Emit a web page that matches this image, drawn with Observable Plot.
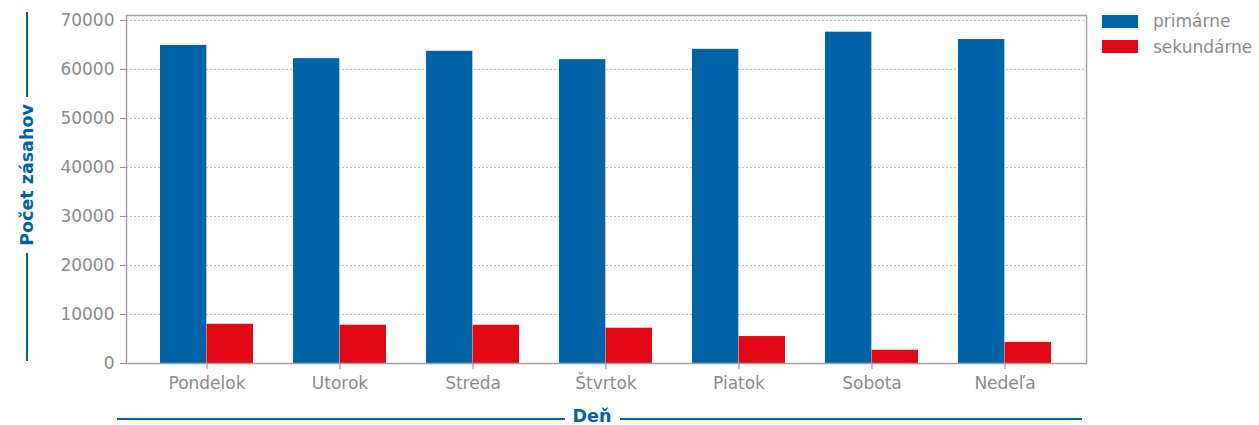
<!DOCTYPE html>
<html><head><meta charset="utf-8">
<script src="https://cdn.jsdelivr.net/npm/d3@7"></script>
<script src="https://cdn.jsdelivr.net/npm/@observablehq/plot@0.6"></script>
<style>
body{margin:0;background:#fff;font-family:"DejaVu Sans",sans-serif;}
#wrap{position:relative;width:1259px;height:425px;overflow:hidden;}
#wrap svg{position:absolute;left:0;top:0;}
.leg{position:absolute;left:1102px;display:flex;align-items:center;font-size:17px;color:#8a8a8a;}
.sw{width:36px;height:13px;margin-right:15px;}
.ttl{position:absolute;color:#0063a6;font-weight:bold;font-size:17.5px;line-height:18px;}
.hl{position:absolute;height:2px;background:#0063a6;}
.vl{position:absolute;width:2px;background:#0063a6;}
</style></head><body><div id="wrap"></div>
<script>
const days = ["Pondelok","Utorok","Streda","Štvrtok","Piatok","Sobota","Nedeľa"];
const primarne = [64900,62200,63700,62000,64100,67600,66100];
const sekundarne = [8000,7800,7800,7200,5500,2700,4300];
const seriesNames = ["primárne","sekundárne"];
const seriesColors = ["#0063a6","#e30613"];
const yTicks = [0,10000,20000,30000,40000,50000,60000,70000];
const yTitle = "Počet zásahov";
const xTitle = "Deň";

const W = 1259, H = 425;
const mL = 126, mR = 173, mT = 15, mB = 62;
const pIn = 0.3, pOut = 0.25;
const step = (W - mL - mR) / (days.length - pIn + 2 * pOut);
const half = step * (1 - pIn) / 2;

const dataP = days.map((d, i) => ({day: d, v: primarne[i]}));
const dataS = days.map((d, i) => ({day: d, v: sekundarne[i]}));

const chart = Plot.plot({
  width: W, height: H,
  marginLeft: mL, marginRight: mR, marginTop: mT, marginBottom: mB,
  style: {fontFamily: "DejaVu Sans, sans-serif", fontSize: "17px", color: "#8a8a8a", background: "transparent"},
  x: {domain: days, paddingInner: pIn, paddingOuter: pOut, label: null, tickSize: 6, tickPadding: 7},
  y: {domain: [0, 71000], ticks: yTicks, tickFormat: d => String(d), label: null, tickSize: 6, tickPadding: 6},
  marks: [
    Plot.ruleY(yTicks.slice(1), {stroke: "#b8b8b8", strokeDasharray: "2,2", strokeWidth: 1}),
    Plot.barY(dataP, {x: "day", y: "v", fill: seriesColors[0], insetRight: half}),
    Plot.barY(dataS, {x: "day", y: "v", fill: seriesColors[1], insetLeft: half}),
    Plot.frame({stroke: "#a0a0a0", strokeWidth: 1.5})
  ]
});
const wrap = document.getElementById("wrap");
wrap.appendChild(chart);

// legend
seriesNames.forEach((n, i) => {
  const el = document.createElement("div");
  el.className = "leg";
  el.style.top = (11 + i * 25.5) + "px";
  el.innerHTML = `<div class="sw" style="background:${seriesColors[i]}"></div><span>${n}</span>`;
  wrap.appendChild(el);
});

// y title with flanking lines
const v1 = document.createElement("div"); v1.className = "vl";
v1.style.cssText = "left:26px;top:12px;height:85px;"; wrap.appendChild(v1);
const v2 = document.createElement("div"); v2.className = "vl";
v2.style.cssText = "left:26px;top:253px;height:108px;"; wrap.appendChild(v2);
const yt = document.createElement("div"); yt.className = "ttl"; yt.textContent = yTitle;
yt.style.cssText = "left:27px;top:175px;transform:translate(-50%,-50%) rotate(-90deg);white-space:nowrap;";
wrap.appendChild(yt);

// x title with flanking lines
const h1 = document.createElement("div"); h1.className = "hl";
h1.style.cssText = "left:117px;top:418px;width:448px;"; wrap.appendChild(h1);
const h2 = document.createElement("div"); h2.className = "hl";
h2.style.cssText = "left:620px;top:418px;width:462px;"; wrap.appendChild(h2);
const xt = document.createElement("div"); xt.className = "ttl"; xt.textContent = xTitle;
xt.style.cssText = "left:592px;top:415.5px;transform:translate(-50%,-50%);white-space:nowrap;";
wrap.appendChild(xt);
</script></body></html>
